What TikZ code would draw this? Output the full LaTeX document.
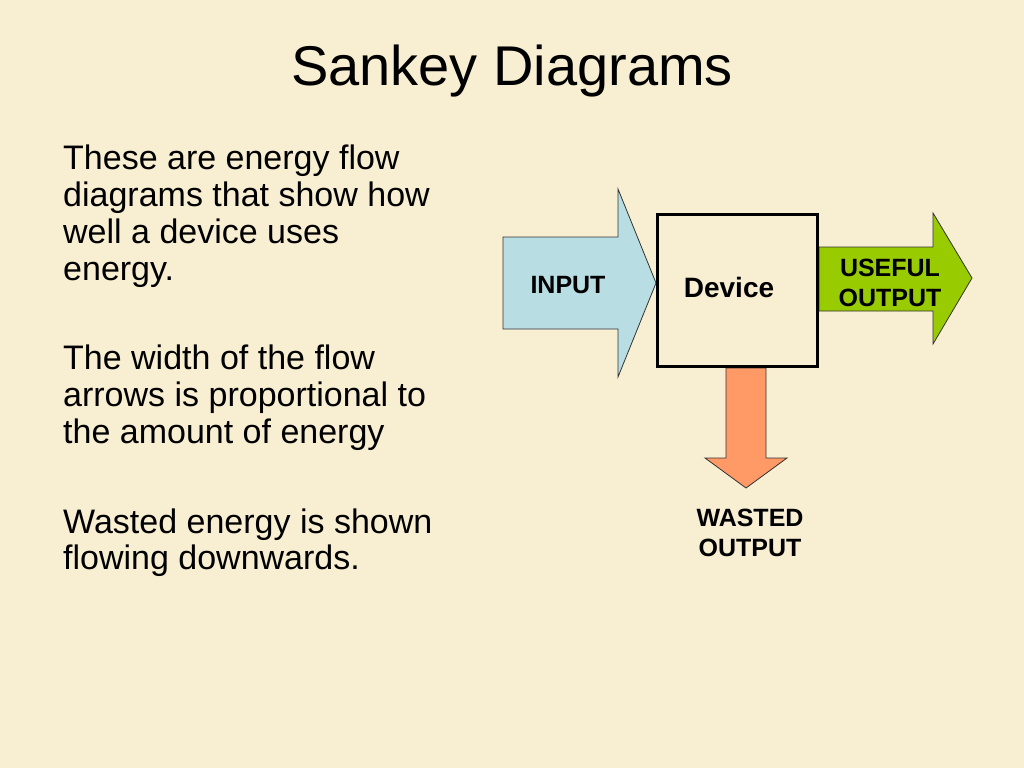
\documentclass[tikz,border=0pt]{standalone}
\usepackage{fontspec}
\setmainfont{Liberation Sans}
\definecolor{bgc}{RGB}{248,238,210}
\definecolor{inblue}{RGB}{184,222,228}
\definecolor{usegreen}{RGB}{153,204,0}
\definecolor{wasteorange}{RGB}{255,153,102}
\begin{document}
\begin{tikzpicture}[x=1pt,y=-1pt,
  bodyline/.style={anchor=base west,inner sep=0pt,font=\fontsize{34}{37}\selectfont},
  flowlabel/.style={inner sep=0pt,font=\bfseries\fontsize{25}{30}\selectfont,align=center},
  flowarrow/.style={draw=black!80,line width=0.8pt,line join=miter}]
\useasboundingbox (0,0) rectangle (1024,768);
\fill[bgc] (0,0) rectangle (1024,768);
% title
\node[anchor=base,inner sep=0pt,font=\fontsize{56}{60}\selectfont] (title) at (512,85) {Sankey Diagrams};
% body text
\node[bodyline] (l1) at (63,169) {These are energy flow};
\node[bodyline] (l2) at (63,206) {diagrams that show how};
\node[bodyline] (l3) at (63,243) {well a device uses};
\node[bodyline] (l4) at (63,280) {energy.};
\node[bodyline] (l5) at (63,369) {The width of the flow};
\node[bodyline] (l6) at (63,406) {arrows is proportional to};
\node[bodyline] (l7) at (63,443) {the amount of energy};
\node[bodyline] (l8) at (63,533) {Wasted energy is shown};
\node[bodyline] (l9) at (63,569) {flowing downwards.};
% device box
\coordinate (devc) at (737.5,290.5);
% input arrow
\draw[flowarrow,fill=inblue] (503,237) -- (618,237) -- (618,189) -- (656,283) -- (618,377) -- (618,329) -- (503,329) -- cycle;
% useful arrow
\draw[flowarrow,fill=usegreen] (819,247) -- (933,247) -- (933,213) -- (972,278) -- (933,344) -- (933,311) -- (819,311) -- cycle;
% wasted arrow
\draw[flowarrow,fill=wasteorange] (726,368) -- (726,458) -- (705,458) -- (746,488) -- (787,458) -- (766,458) -- (766,368) -- cycle;
\node[draw=black,line width=3.5pt,minimum width=160pt,minimum height=152pt,inner sep=0pt] (dev) at (devc) {};
\node[flowlabel] (inl) at (568,285) {INPUT};
\node[inner sep=0pt,font=\bfseries\fontsize{28}{30}\selectfont] (devl) at (729,287) {Device};
\node[flowlabel] (usel) at (890,283) {USEFUL\\OUTPUT};
\node[flowlabel] (wastel) at (750,533) {WASTED\\OUTPUT};
\end{tikzpicture}
\end{document}
